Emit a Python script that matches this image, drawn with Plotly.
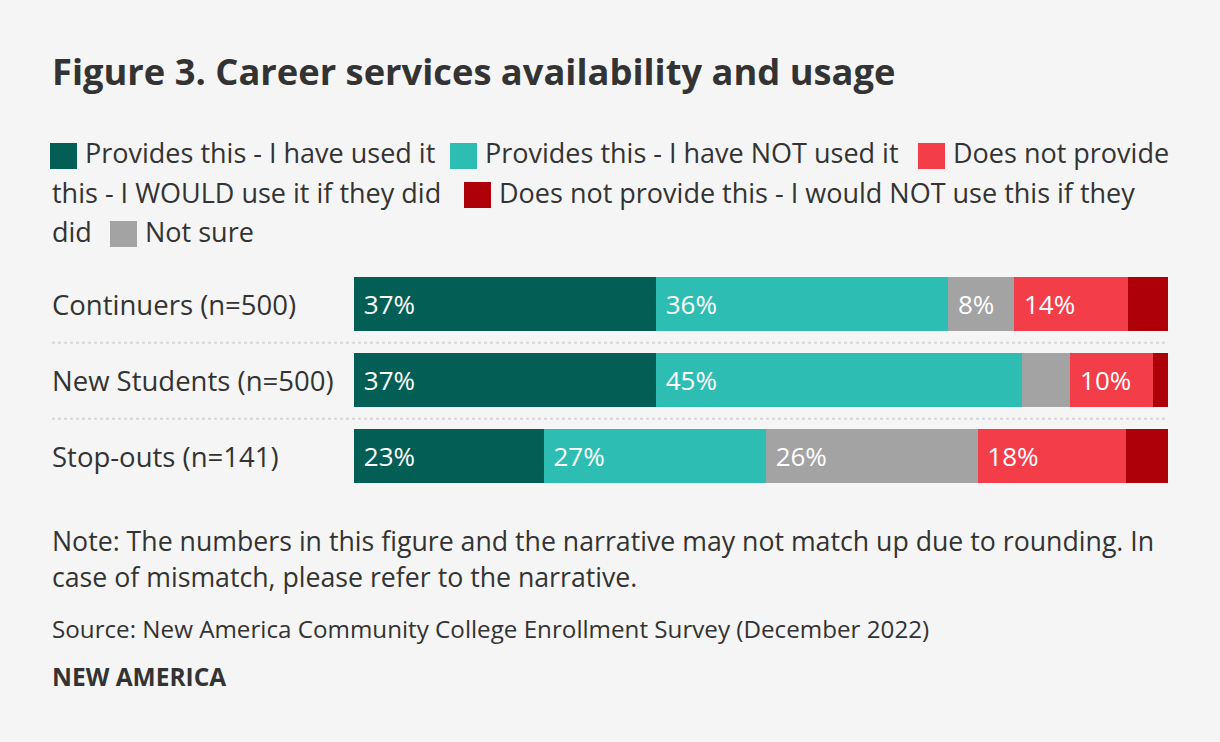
import plotly.graph_objects as go

# ---------------- data ----------------
groups = ["Continuers (n=500)", "New Students (n=500)", "Stop-outs (n=141)"]
series_names = [
    "Provides this - I have used it",
    "Provides this - I have NOT used it",
    "Not sure",
    "Does not provide this - I WOULD use it if they did",
    "Does not provide this - I would NOT use this if they did",
]
used = [37.1, 37.1, 23.3]
not_used = [35.9, 45.0, 27.3]
not_sure = [8.1, 5.9, 26.0]
would_use = [14.0, 10.1, 18.2]
would_not_use = [4.9, 1.9, 5.2]
series_values = [used, not_used, not_sure, would_use, would_not_use]
colors = ["#035f55", "#2ebdb3", "#a3a3a3", "#f33e4a", "#ae0009"]

title = "Figure 3. Career services availability and usage"
note_lines = [
    "Note: The numbers in this figure and the narrative may not match up due to rounding. In",
    "case of mismatch, please refer to the narrative.",
]
source = "Source: New America Community College Enrollment Survey (December 2022)"
footer = "NEW AMERICA"

# ---------------- layout helpers ----------------
W, H = 1220, 742
ML, MR, MT, MB = 354, 52, 266, 248
PW, PH = W - ML - MR, H - MT - MB
FONT = "Open Sans"
TXT = "#333333"


def px(x):
    return (x - ML) / PW


def py(y):
    return (H - MB - y) / PH


fig = go.Figure()
for name, vals, col in zip(series_names, series_values, colors):
    fig.add_trace(go.Bar(
        y=groups, x=vals, name=name, orientation="h",
        marker=dict(color=col, line=dict(width=0)),
        text=["\u00a0%d%%" % round(v) if v >= 7 else "" for v in vals],
        textposition="inside", insidetextanchor="start",
        insidetextfont=dict(family=FONT, size=26, color="white"),
        width=0.7, showlegend=False, hoverinfo="skip",
        cliponaxis=False,
    ))

ann = []
shapes = []

# title
ann.append(dict(text="<b>%s</b>" % title, x=px(50), y=py(71), xref="paper", yref="paper",
                xanchor="left", yanchor="middle", showarrow=False,
                font=dict(family=FONT, size=36.3, color=TXT)))

# legend (manual, wrapping like inline text)
legend_items = [
    (50, 156, 0, "Provides this - I have used it"),
    (450, 156, 1, "Provides this - I have NOT used it"),
    (918, 156, 3, "Does not provide"),
    (464, 195, 4, "Does not provide this - I would NOT use this if they"),
    (110, 234, 2, "Not sure"),
]
for sx, cy, ci, label in legend_items:
    shapes.append(dict(type="rect", xref="paper", yref="paper",
                       x0=px(sx), x1=px(sx + 27), y0=py(cy - 13), y1=py(cy + 13),
                       fillcolor=colors[ci], line=dict(width=0)))
    ann.append(dict(text=label, x=px(sx + 33), y=py(cy - 3), xref="paper", yref="paper",
                    xanchor="left", yanchor="middle", showarrow=False,
                    font=dict(family=FONT, size=27, color=TXT)))
for tx, cy, label in [(50, 195, "this - I WOULD use it if they did"), (50, 234, "did")]:
    ann.append(dict(text=label, x=px(tx), y=py(cy - 3), xref="paper", yref="paper",
                    xanchor="left", yanchor="middle", showarrow=False,
                    font=dict(family=FONT, size=27, color=TXT)))

# category labels
for g in groups:
    ann.append(dict(text=g, x=px(50), y=g, xref="paper", yref="y",
                    xanchor="left", yanchor="middle", showarrow=False,
                    font=dict(family=FONT, size=27.5, color=TXT)))

# dotted separators
for yy in [342.7, 418.7]:
    shapes.append(dict(type="line", xref="paper", yref="paper",
                       x0=px(52), x1=1, y0=py(yy), y1=py(yy),
                       line=dict(color="#d6d6d6", width=2, dash="dot")))

# note / source / footer
for i, line in enumerate(note_lines):
    ann.append(dict(text=line, x=px(50), y=py(540 + 36 * i), xref="paper", yref="paper",
                    xanchor="left", yanchor="middle", showarrow=False,
                    font=dict(family=FONT, size=26.7, color=TXT)))
ann.append(dict(text=source, x=px(50), y=py(628), xref="paper", yref="paper",
                xanchor="left", yanchor="middle", showarrow=False,
                font=dict(family=FONT, size=24.2, color=TXT)))
ann.append(dict(text="<b>%s</b>" % footer, x=px(50), y=py(676), xref="paper", yref="paper",
                xanchor="left", yanchor="middle", showarrow=False,
                font=dict(family=FONT, size=24.5, color=TXT)))

fig.update_layout(
    width=W, height=H, barmode="stack",
    margin=dict(l=ML, r=MR, t=MT, b=MB, pad=0),
    paper_bgcolor="#f5f5f5", plot_bgcolor="#f5f5f5",
    xaxis=dict(range=[0, 100], visible=False, fixedrange=True),
    yaxis=dict(categoryorder="array", categoryarray=groups, range=[2.5, -0.5],
               showticklabels=False, showgrid=False, zeroline=False, fixedrange=True),
    annotations=ann, shapes=shapes, bargap=0.3,
    font=dict(family=FONT, color=TXT),
)

fig.write_html(
    "out.html",
    config={"displayModeBar": False},
    post_script="document.body.style.margin='0';document.body.style.background='#f5f5f5';document.body.style.overflow='hidden';",
)
